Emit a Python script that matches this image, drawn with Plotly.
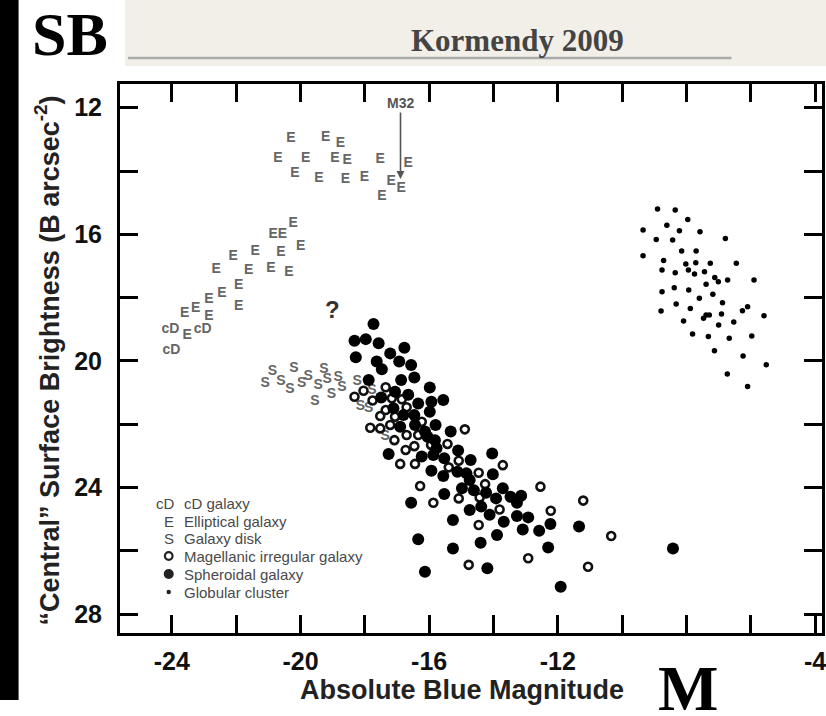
import plotly.graph_objects as go

# ---------------- data ----------------
cd_x = [-24.04, -23.04, -24.01]
cd_y = [19.00, 19.00, 19.68]

e_x = [-20.30, -19.22, -18.76, -20.70, -19.84, -18.93, -18.55, -17.52, -16.65, -20.17, -19.43, -18.60,
       -18.01, -17.18, -16.87, -17.47,
       -20.23, -20.85, -20.56, -19.99, -22.09, -21.41, -20.61, -22.62, -21.61, -20.92, -20.36, -21.92,
       -22.44, -22.85, -21.92, -23.26, -23.60, -22.85, -23.52]
e_y = [12.97, 12.95, 13.12, 13.60, 13.60, 13.60, 13.68, 13.65, 13.76, 14.07, 14.23, 14.28,
       14.21, 14.34, 14.55, 14.81,
       15.67, 15.99, 15.99, 16.37, 16.71, 16.55, 16.58, 17.10, 17.15, 17.07, 17.20, 17.63,
       17.86, 18.05, 18.29, 18.34, 18.49, 18.58, 19.21]

s_x = [-20.87, -21.10, -20.61, -20.33, -20.20, -19.96, -19.76, -19.45, -19.27, -19.17, -19.04, -19.55,
       -18.83, -18.71, -18.24, -18.14, -17.88, -17.78, -17.37]
s_y = [20.34, 20.71, 20.65, 20.89, 20.23, 20.71, 20.50, 20.76, 20.26, 20.60, 21.05, 21.29,
       20.52, 20.83, 20.65, 21.44, 21.49, 20.92, 22.39]

irr_x = [-18.04, -18.32, -17.76, -17.35, -17.16, -17.35, -17.52, -17.06, -17.83, -17.52,
         -17.21, -17.08, -16.70, -16.73, -16.46, -16.90, -16.44, -16.85, -16.70, -16.23,
         -14.89, -16.34, -15.43, -15.94, -15.08, -15.39, -14.46, -13.71, -16.28, -14.26,
         -12.54, -15.87, -15.08, -14.43, -13.81, -12.22, -11.21, -14.46, -10.34, -12.92,
         -14.77, -11.06]
irr_y = [20.94, 21.13, 21.25, 20.83, 21.18, 21.55, 21.74, 21.76, 22.11, 22.13,
         22.02, 22.50, 22.34, 22.81, 22.69, 23.25, 23.25, 21.21, 21.46, 21.92,
         22.16, 22.34, 22.62, 22.65, 23.15, 23.36, 23.53, 23.29, 23.95, 23.89,
         23.97, 24.48, 24.34, 24.31, 24.69, 24.73, 24.41, 25.18, 25.53, 26.23,
         26.44, 26.50]

sph_x = [-17.73, -18.32, -17.97, -17.57, -16.77, -18.28, -17.21, -17.63, -16.93, -17.47,
         -16.56, -17.88, -16.87, -16.46, -17.06, -17.49, -16.65, -17.11, -16.80, -16.90,
         -16.44, -17.26,
         -15.98, -15.93, -15.56, -16.34, -15.98, -16.46, -15.80, -15.33, -16.13, -16.05,
         -15.82, -15.77,
         -16.23, -15.87, -15.53, -15.10, -14.04, -14.71, -15.93, -15.56, -15.12, -14.84,
         -14.02, -14.74, -14.98, -14.61, -14.23, -13.71, -15.53, -13.92, -13.47, -13.14,
         -13.27, -16.56, -14.38, -14.74, -14.12, -13.27, -12.92, -15.26, -13.68, -12.23,
         -13.09, -12.58, -11.34, -13.89, -16.34, -14.40, -15.26, -12.30, -8.42, -16.13,
         -14.19, -11.91]
sph_y = [18.83, 19.36, 19.31, 19.44, 19.58, 19.88, 19.76, 20.02, 20.02, 20.26,
         20.13, 20.60, 20.60, 20.52, 20.97, 21.15, 21.07, 21.49, 21.71, 22.08,
         22.02, 22.94,
         20.84, 21.29, 21.23, 21.34, 21.60, 21.71, 22.02, 22.23, 22.23, 22.39,
         22.50, 22.76,
         23.02, 22.97, 23.07, 22.83, 22.92, 23.13, 23.47, 23.63, 23.50, 23.55,
         23.58, 23.76, 24.02, 24.08, 24.16, 24.02, 24.20, 24.34, 24.29, 24.26,
         24.48, 24.48, 24.60, 24.71, 24.86, 24.90, 24.94, 25.02, 25.08, 25.15,
         25.32, 25.36, 25.23, 25.50, 25.63, 25.74, 25.92, 25.89, 25.92, 26.66,
         26.55, 27.13]

gc_x = [-8.90, -8.35, -7.96, -8.61, -9.35, -8.22, -7.58, -8.94, -8.43, -6.79,
        -8.15, -7.70, -9.35, -8.71, -8.02, -7.71, -7.26, -6.45, -8.76, -8.35,
        -7.94, -7.75, -7.44, -7.12, -7.01, -6.72, -5.90, -7.39, -8.76, -8.38,
        -7.93, -7.18, -7.60, -6.88, -8.32, -8.79, -7.88, -6.26, -6.10, -5.59,
        -6.91, -7.39, -7.29, -7.47, -8.09, -6.53, -7.00, -7.81, -7.32, -6.67,
        -5.97, -7.13, -6.24, -5.52, -6.73, -6.10]
gc_y = [15.20, 15.23, 15.53, 15.71, 15.86, 15.89, 15.92, 16.16, 16.18, 16.13,
        16.53, 16.53, 16.68, 16.83, 16.94, 16.90, 16.91, 16.91, 17.13, 17.21,
        17.13, 17.25, 17.18, 17.36, 17.50, 17.44, 17.44, 17.58, 17.81, 17.69,
        17.76, 17.89, 18.02, 18.16, 18.20, 18.42, 18.34, 18.41, 18.29, 18.57,
        18.52, 18.55, 18.55, 18.65, 18.74, 18.77, 18.86, 19.15, 19.23, 19.28,
        19.21, 19.68, 19.84, 20.12, 20.41, 20.81]

x_tickvals = [-24, -22, -20, -18, -16, -14, -12, -10, -8, -6, -4]
x_ticktext = ["-24", " ", "-20", " ", "-16", " ", "-12", " ", " ", " ", "-4"]
y_tickvals = [12, 14, 16, 18, 20, 22, 24, 26, 28]
y_ticktext = ["12", " ", "16", " ", "20", " ", "24", " ", "28"]

legend_labels = ["cD galaxy", "Elliptical galaxy", "Galaxy disk",
                 "Magellanic irregular galaxy", "Spheroidal galaxy", "Globular cluster"]

m32 = dict(x=-16.89, y=14.25, text_y=11.85)
question = dict(x=-19.0, y=18.36)

# ---------------- layout geometry ----------------
W, H = 826, 716
L, R, T, B = 120, 826, 84, 633

def pxx(x):
    return (x - L) / (R - L)

def pyy(y):
    return (B - y) / (B - T)

SANS = "Liberation Sans, Arial, Helvetica, sans-serif"
SERIF = "Liberation Serif, Times New Roman, serif"
GRAY_TXT = "#666666"

fig = go.Figure()

def text_trace(xs, ys, label):
    return go.Scatter(x=xs, y=ys, mode="text", text=[label] * len(xs),
                      textposition="middle center",
                      textfont=dict(family=SANS, size=14, color=GRAY_TXT, weight="bold"),
                      showlegend=False, hoverinfo="skip")

fig.add_trace(text_trace(cd_x, cd_y, "cD"))
fig.add_trace(text_trace(e_x, e_y, "E"))
fig.add_trace(text_trace(s_x, s_y, "S"))
fig.add_trace(go.Scatter(x=irr_x, y=irr_y, mode="markers",
                         marker=dict(symbol="circle-open", size=8, color="#111",
                                     line=dict(width=2.6, color="#111")),
                         showlegend=False, hoverinfo="skip"))
fig.add_trace(go.Scatter(x=sph_x, y=sph_y, mode="markers",
                         marker=dict(symbol="circle", size=12, color="#000",
                                     line=dict(width=0)),
                         showlegend=False, hoverinfo="skip"))
fig.add_trace(go.Scatter(x=gc_x, y=gc_y, mode="markers",
                         marker=dict(symbol="circle", size=5.5, color="#000",
                                     line=dict(width=0)),
                         showlegend=False, hoverinfo="skip"))

shapes = []
# slide background pieces
shapes.append(dict(type="rect", xref="paper", yref="paper", layer="below",
                   x0=pxx(18), x1=pxx(830), y0=pyy(-5), y1=pyy(66),
                   fillcolor="#f2efe8", line=dict(width=0)))
shapes.append(dict(type="rect", xref="paper", yref="paper", layer="below",
                   x0=pxx(18), x1=pxx(125), y0=pyy(-5), y1=pyy(84),
                   fillcolor="#ffffff", line=dict(width=0)))
shapes.append(dict(type="rect", xref="paper", yref="paper", layer="below",
                   x0=pxx(-5), x1=pxx(18), y0=pyy(-5), y1=pyy(700),
                   fillcolor="#000000", line=dict(width=0)))
shapes.append(dict(type="line", xref="paper", yref="paper", layer="below",
                   x0=pxx(128), x1=pxx(735), y0=pyy(58), y1=pyy(58),
                   line=dict(color="#aaaaaa", width=2.5)))

# legend symbols
leg_rows = [503, 521, 538.5, 556, 574, 592]
sym_x = 169
def circ(cy, r, filled):
    return dict(type="circle", xref="paper", yref="paper",
                xsizemode="pixel", ysizemode="pixel",
                xanchor=pxx(sym_x), yanchor=pyy(cy),
                x0=-r, x1=r, y0=-r, y1=r,
                fillcolor="#222" if filled else "rgba(0,0,0,0)",
                line=dict(color="#222", width=0 if filled else 2.2))
shapes.append(circ(leg_rows[3], 3.8, False))
shapes.append(circ(leg_rows[4], 5.0, True))
shapes.append(circ(leg_rows[5], 2.2, True))

annotations = []
leg_font = dict(family=SANS, size=15, color="#4a4a4a")
for cy, lab in zip(leg_rows, legend_labels):
    annotations.append(dict(xref="paper", yref="paper", x=pxx(182), y=pyy(cy),
                            text=lab, showarrow=False, xanchor="left", yanchor="middle",
                            font=leg_font))
for cy, sym, sx in zip(leg_rows[:3], ["cD", "E", "S"], [166, 169, 169]):
    annotations.append(dict(xref="paper", yref="paper", x=pxx(sx), y=pyy(cy),
                            text=sym, showarrow=False, xanchor="center", yanchor="middle",
                            font=leg_font))

# M32 arrow
annotations.append(dict(x=m32["x"], y=m32["y"], ax=m32["x"], ay=m32["text_y"],
                        xref="x", yref="y", axref="x", ayref="y",
                        text="<b>M32</b>", showarrow=True, arrowhead=2, arrowsize=1,
                        arrowwidth=1.6, arrowcolor="#555",
                        font=dict(family=SANS, size=14, color="#555")))
# question mark
annotations.append(dict(x=question["x"], y=question["y"], xref="x", yref="y",
                        text="<b>?</b>", showarrow=False,
                        font=dict(family=SANS, size=24, color="#333")))
# axis titles
annotations.append(dict(xref="paper", yref="paper", x=pxx(464), y=pyy(690),
                        text="<b>Absolute Blue Magnitude</b>", showarrow=False,
                        xanchor="center", yanchor="middle",
                        font=dict(family=SANS, size=27, color="#222")))
annotations.append(dict(xref="paper", yref="paper", x=pxx(47), y=pyy(360),
                        text="<b>\u201cCentral\u201d Surface Brightness (B arcsec<sup>-2</sup>)</b>",
                        showarrow=False, textangle=-90,
                        xanchor="center", yanchor="middle",
                        font=dict(family=SANS, size=27, color="#222")))
# slide texts
annotations.append(dict(xref="paper", yref="paper", x=pxx(70), y=pyy(34),
                        text="<b>SB</b>", showarrow=False, xanchor="center", yanchor="middle",
                        font=dict(family=SERIF, size=62, color="#000")))
annotations.append(dict(xref="paper", yref="paper", x=pxx(520), y=pyy(40),
                        text="<b>Kormendy 2009</b>", showarrow=False, xanchor="center",
                        yanchor="middle", font=dict(family=SERIF, size=31, color="#444")))
annotations.append(dict(xref="paper", yref="paper", x=pxx(691), y=pyy(688),
                        text="<b>M</b>", showarrow=False, xanchor="center", yanchor="middle",
                        font=dict(family=SERIF, size=64, color="#000")))

axis_common = dict(ticks="inside", ticklen=18, tickwidth=3, tickcolor="#000",
                   showline=True, linewidth=3, linecolor="#000", mirror="ticks",
                   showgrid=False, zeroline=False, ticklabeloverflow="allow",
                   tickfont=dict(family=SANS, size=25, color="#111", weight="bold"))

x_left = -15 + (L - 463.25) / 32.35
x_right = -15 + (R - 463.25) / 32.35
y_top = 12 + (T - 107.7) / 31.66
y_bot = 12 + (B - 107.7) / 31.66

fig.update_layout(
    width=W, height=H,
    margin=dict(l=L, r=W - R, t=T, b=H - B, pad=0),
    paper_bgcolor="#ffffff", plot_bgcolor="#ffffff",
    xaxis=dict(range=[x_left, x_right], tickvals=x_tickvals, ticktext=x_ticktext,
               ticklabelstandoff=4, **axis_common),
    yaxis=dict(range=[y_bot, y_top], tickvals=y_tickvals, ticktext=y_ticktext,
               ticklabelstandoff=10, **axis_common),
    shapes=shapes, annotations=annotations,
    showlegend=False, hovermode=False,
)

fig.write_html("out.html")
